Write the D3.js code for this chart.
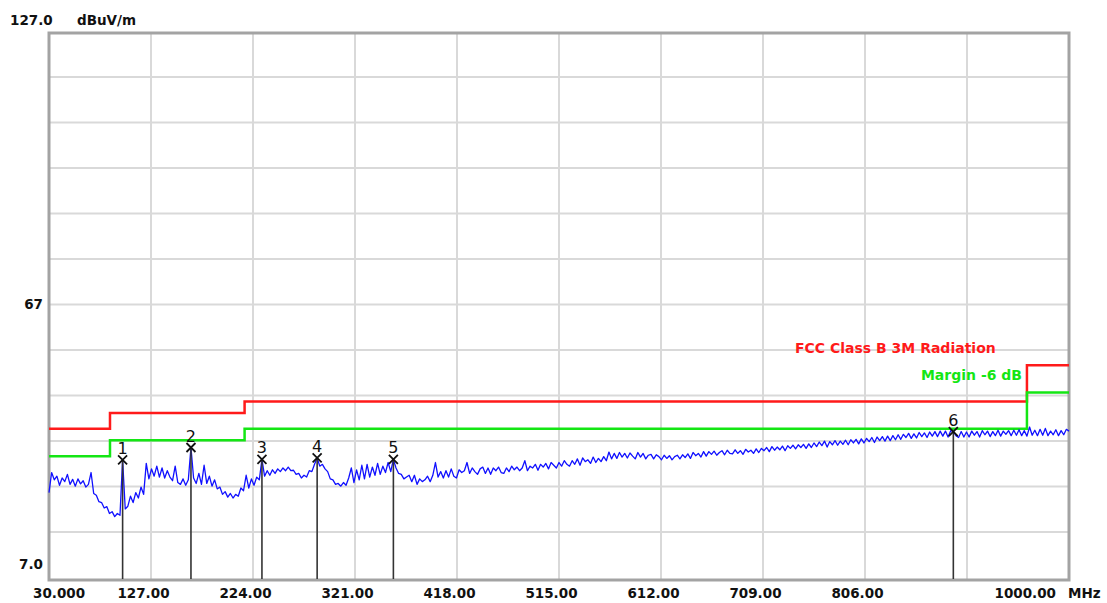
<!DOCTYPE html>
<html>
<head>
<meta charset="utf-8">
<script src="https://cdn.jsdelivr.net/npm/d3@7"></script>
<style>
  body { margin: 0; background: #fff; }
  text { font-family: "DejaVu Sans", sans-serif; }
</style>
</head>
<body>
<svg id="chart" width="1107" height="603"></svg>
<script>
// axis labels as printed by the receiver
let xTickLabels = ["30.000", "127.00", "224.00", "321.00", "418.00", "515.00", "612.00", "709.00", "806.00", "", "1000.00"];
let yTickLabels = ["127.0", "67", "7.0"];
let yTickValues = [127, 67, 7];

// limit lines (step after each edge)
let limitEdges = [30, 88, 216, 960, 1000];
let fccLimit = [40, 43.5, 46, 54, 54];
let marginLimit = [34, 37.5, 40, 48, 48];

// sweep: 30 MHz start, 2.5 MHz step, level in dBuV/m
let sweepStart = 30;
let sweepStep = 2.5;
let sweepLevel = [
  26.0, 30.4, 28.8, 29.6, 27.6, 29.2, 28.4, 30.0, 27.8, 28.9,
  27.4, 29.0, 27.9, 28.6, 27.2, 27.8, 30.4, 25.8, 25.4, 24.0,
  23.8, 22.6, 22.9, 21.4, 21.8, 20.7, 21.4, 21.0, 33.2, 22.4,
  23.0, 25.2, 23.8, 26.0, 24.8, 27.2, 25.6, 32.4, 29.0, 31.2,
  29.6, 31.8, 29.4, 31.4, 29.2, 30.8, 29.4, 28.6, 31.8, 28.2,
  27.8, 29.0, 27.6, 28.8, 35.9, 29.2, 28.0, 30.2, 27.8, 32.0,
  28.0, 29.6, 27.4, 28.8, 26.8, 27.2, 25.6, 26.2, 25.0, 25.8,
  24.8, 25.6, 25.2, 27.0, 26.4, 29.8, 27.0, 29.0, 27.6, 29.4,
  28.8, 33.3, 29.6, 30.8, 29.8, 31.0, 30.2, 31.2, 30.6, 31.4,
  30.8, 31.6, 30.8, 30.9, 30.0, 30.2, 29.2, 29.8, 29.4, 30.8,
  30.6, 32.2, 33.6, 31.8, 32.2, 31.2, 30.6, 29.0, 28.8, 27.8,
  28.0, 27.4, 28.2, 27.6, 29.2, 31.4, 28.2, 31.0, 28.8, 32.0,
  29.0, 32.2, 29.4, 31.6, 29.8, 32.4, 30.0, 31.8, 30.4, 32.6,
  30.6, 33.3, 31.4, 30.2, 30.0, 29.0, 29.4, 29.8, 28.4, 29.8,
  27.8, 29.0, 28.4, 28.8, 29.6, 28.4, 29.8, 32.6, 29.4, 30.6,
  29.2, 30.8, 29.4, 31.2, 29.6, 29.2, 31.0, 30.4, 30.8, 32.6,
  30.2, 31.4, 30.6, 30.0, 31.2, 31.6, 30.2, 31.4, 30.0, 31.4,
  30.8, 31.6, 30.4, 30.2, 31.4, 30.6, 31.8, 31.0, 31.6, 30.8,
  31.4, 33.0, 30.8, 31.8, 31.4, 32.2, 30.9, 32.2, 31.6, 32.4,
  31.2, 32.6, 32.0, 31.4, 32.6, 31.8, 33.0, 32.2, 31.8, 33.0,
  32.2, 33.4, 32.0, 33.6, 32.8, 33.2, 32.4, 33.8, 32.6, 33.5,
  32.8, 33.9, 33.0, 34.9, 33.4, 34.6, 33.5, 34.8, 33.8, 34.6,
  33.6, 34.7, 34.0, 33.4, 34.8, 33.8, 34.6, 33.4, 34.2, 34.4,
  33.4, 34.3, 33.9, 33.2, 34.2, 33.5, 34.1, 33.2, 33.9, 34.2,
  33.4, 34.3, 33.7, 34.5, 33.5, 34.8, 34.1, 34.6, 33.8, 35.0,
  34.0, 35.0, 34.4, 35.1, 34.2, 34.8, 35.2, 34.3, 35.3, 34.6,
  34.5, 35.4, 34.6, 35.2, 34.4, 35.5, 34.9, 35.3, 34.6, 35.6,
  34.8, 35.7, 35.2, 35.9, 35.0, 36.1, 35.3, 36.0, 35.4, 36.2,
  35.2, 36.3, 35.7, 36.4, 35.6, 36.5, 35.9, 36.6, 35.7, 36.7,
  35.9, 36.9, 36.1, 37.1, 36.3, 37.3, 36.0, 37.2, 36.5, 37.4,
  36.4, 37.3, 36.6, 37.5, 36.5, 37.6, 36.9, 37.7, 36.7, 37.8,
  36.9, 37.9, 37.2, 38.1, 37.0, 38.2, 37.4, 38.3, 37.3, 38.4,
  37.4, 38.5, 37.6, 38.7, 37.7, 38.8, 38.1, 39.0, 37.9, 38.9,
  38.0, 39.2, 38.3, 39.1, 38.1, 39.3, 38.4, 39.4, 38.3, 39.5,
  38.4, 39.5, 38.2, 39.6, 39.4, 38.5, 38.1, 39.4, 38.2, 39.3,
  38.2, 39.5, 38.6, 39.4, 38.2, 39.6, 38.7, 39.5, 38.3, 39.4,
  38.5, 39.7, 38.4, 39.5, 38.8, 39.6, 38.5, 39.7, 38.6, 39.8,
  38.5, 39.6, 38.4, 40.4, 38.6, 39.7, 38.5, 39.9, 38.6, 40.1,
  38.5, 39.5, 38.7, 39.8, 38.5, 39.6, 38.7, 39.9, 39.5
];

// peak markers
let markerNames = ["1", "2", "3", "4", "5", "6"];
let markerFreq = [100, 165, 232.5, 285, 357.5, 890];
let markerLevel = [33.2, 35.9, 33.3, 33.6, 33.3, 39.4];

let svg = d3.select("#chart");
let plotL = 49, plotR = 1069, plotT = 33, plotB = 579;

let x = d3.scaleLinear().domain([30, 1000]).range([plotL, plotR]);
let y = d3.scaleLinear().domain([7, 127]).range([plotB, plotT]);

/* grid */
let grid = svg.append("g");
grid.selectAll(".vg")
    .data(d3.range(1, 10).map(i => 30 + i * 97))
    .enter().append("line")
    .attr("x1", d => x(d)).attr("x2", d => x(d))
    .attr("y1", plotT).attr("y2", plotB + 1)
    .attr("stroke", "#d9d9d9").attr("stroke-width", 2);
grid.selectAll(".hg")
    .data(d3.range(17, 127, 10))
    .enter().append("line")
    .attr("x1", plotL).attr("x2", plotR)
    .attr("y1", d => y(d) - 1.5).attr("y2", d => y(d) - 1.5)
    .attr("stroke", "#d9d9d9").attr("stroke-width", 2);

/* frame */
svg.append("rect")
    .attr("x", plotL).attr("y", plotT)
    .attr("width", plotR - plotL).attr("height", plotB + 1 - plotT)
    .attr("fill", "none").attr("stroke", "#a3a3a3").attr("stroke-width", 3);

/* limits */
let stepLine = d3.line().x(d => x(d[0])).y(d => y(d[1])).curve(d3.curveStepAfter);
svg.append("path")
    .attr("d", stepLine(limitEdges.map((f, i) => [f, fccLimit[i]])))
    .attr("fill", "none").attr("stroke", "#ff1a1a").attr("stroke-width", 2.5);
svg.append("path")
    .attr("d", stepLine(limitEdges.map((f, i) => [f, marginLimit[i]])))
    .attr("fill", "none").attr("stroke", "#14e614").attr("stroke-width", 2.5);

/* sweep trace */
let sweep = sweepLevel.map((v, i) => [sweepStart + i * sweepStep, v]);
svg.append("path")
    .attr("d", d3.line().x(d => x(d[0])).y(d => y(d[1]))(sweep))
    .attr("fill", "none").attr("stroke", "#1010ff").attr("stroke-width", 1.3)
    .attr("stroke-linejoin", "round");

/* markers */
let mk = svg.selectAll(".marker")
    .data(markerNames)
    .enter().append("g")
    .attr("class", "marker")
    .attr("transform", (d, i) => `translate(${x(markerFreq[i])}, ${y(markerLevel[i])})`);

mk.append("line")
    .attr("x1", 0).attr("x2", 0)
    .attr("y1", 0).attr("y2", (d, i) => plotB - y(markerLevel[i]))
    .attr("stroke", "#333").attr("stroke-width", 1.6);
mk.append("path")
    .attr("d", "M-4.5,-4.5L4.5,4.5M-4.5,4.5L4.5,-4.5")
    .attr("stroke", "#111").attr("stroke-width", 1.8);
mk.append("text")
    .attr("y", -6)
    .attr("text-anchor", "middle")
    .style("font-size", "16px")
    .style("fill", "#111")
    .text(d => d);

/* axis text */
let lab = svg.append("g").style("font-weight", "bold").style("font-size", "13.5px").style("fill", "#111");
lab.append("text").attr("x", 10).attr("y", 25).text(yTickLabels[0]);
lab.append("text").attr("x", 77).attr("y", 25).text("dBuV/m");
lab.append("text").attr("x", 43).attr("y", y(yTickValues[1]) + 3).attr("text-anchor", "end").text(yTickLabels[1]);
lab.append("text").attr("x", 43).attr("y", y(yTickValues[2]) - 10).attr("text-anchor", "end").text(yTickLabels[2]);

lab.selectAll(".xl")
    .data(xTickLabels)
    .enter().append("text")
    .attr("x", (d, i) => i == 0 ? 33 : (i == 10 ? 1056 : x(30 + i * 97) - 7.5))
    .attr("y", 598)
    .attr("text-anchor", (d, i) => i == 0 ? "start" : (i == 10 ? "end" : "middle"))
    .text(d => d);
lab.append("text").attr("x", 1068).attr("y", 598).text("MHz");

/* legend */
svg.append("text")
    .attr("x", 795).attr("y", 353)
    .style("font-weight", "bold").style("font-size", "14px").style("fill", "#ff1a1a")
    .text("FCC Class B 3M Radiation");
svg.append("text")
    .attr("x", 1022).attr("y", 380).attr("text-anchor", "end")
    .style("font-weight", "bold").style("font-size", "14px").style("fill", "#14e614")
    .text("Margin -6 dB");
</script>
</body>
</html>
